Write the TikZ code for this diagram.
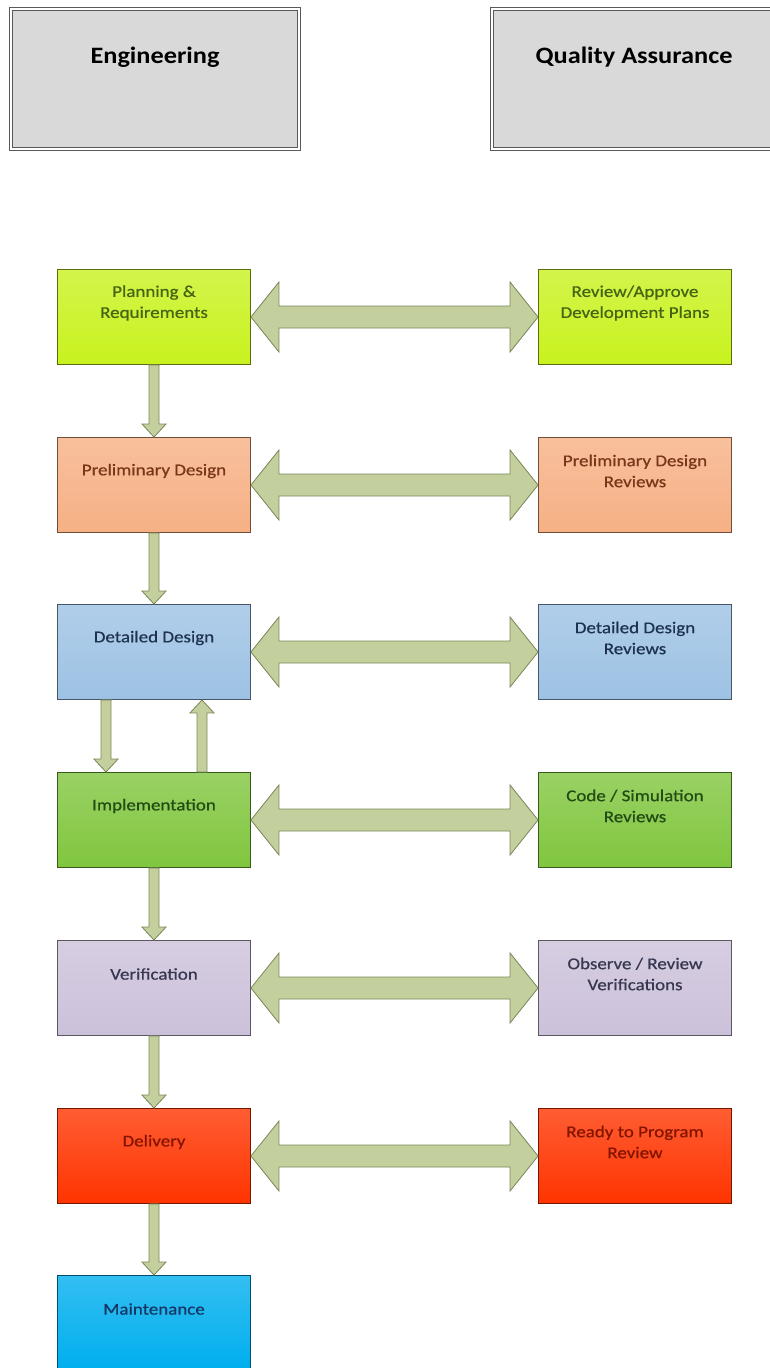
\documentclass[tikz,border=0pt]{standalone}
\usepackage{fontspec}
\setmainfont{Carlito}
\newfontfamily\widefont[FakeStretch=1.15,FakeBold=0.6]{Carlito}
\newfontfamily\wideboldfont[FakeStretch=1.12]{Carlito Bold}
\usetikzlibrary{calc}

\definecolor{planC}{RGB}{200,242,30}
\definecolor{prelC}{RGB}{246,176,132}
\definecolor{detC}{RGB}{157,194,228}
\definecolor{implC}{RGB}{128,198,62}
\definecolor{verC}{RGB}{204,193,218}
\definecolor{delC}{RGB}{255,52,0}
\definecolor{mainC}{RGB}{0,174,238}
\definecolor{planT}{RGB}{70,100,20}
\definecolor{prelT}{RGB}{120,55,25}
\definecolor{detT}{RGB}{30,50,80}
\definecolor{implT}{RGB}{35,75,20}
\definecolor{verT}{RGB}{55,55,80}
\definecolor{delT}{RGB}{130,20,0}
\definecolor{mainT}{RGB}{20,55,100}
\definecolor{arrowC}{RGB}{196,207,158}
\definecolor{arrowB}{RGB}{122,136,88}

\tikzset{
  head/.style={draw=gray!70!black,double=white,double distance=1.6pt,line width=1.2pt,
    fill=gray!30,minimum width=288pt,minimum height=140pt},
  headtxt/.style={font=\wideboldfont\fontsize{23.5}{27}\selectfont},
  stage/.style={draw=#1!45!black,line width=0.9pt,top color=#1!80!white,bottom color=#1,
    minimum width=193pt,minimum height=95pt},
  stagetxt/.style={align=center,font=\widefont\fontsize{16.5}{21}\selectfont,text=#1},
  fatarrow/.style={fill=arrowC,draw=arrowB,line width=0.8pt,line join=miter}
}

% double arrow between two boxes in a row
\newcommand{\dblarrow}[2]{%
  \filldraw[fatarrow] let \p1=(#1.east), \p2=(#2.west) in
    (\x1,\y1) -- (\x1+28pt,\y1+35pt) -- (\x1+28pt,\y1+11pt) -- (\x2-28pt,\y2+11pt)
    -- (\x2-28pt,\y2+35pt) -- (\x2,\y2) -- (\x2-28pt,\y2-35pt) -- (\x2-28pt,\y2-11pt)
    -- (\x1+28pt,\y1-11pt) -- (\x1+28pt,\y1-35pt) -- cycle;}
% arrow down from #2 to #3, shifted by #1
\newcommand{\vdown}[3][0pt]{%
  \filldraw[fatarrow] let \p1=([xshift=#1]#2.south), \p2=([xshift=#1]#3.north) in
    (\x1-5pt,\y1) -- (\x1+5pt,\y1) -- (\x2+5pt,\y2+13pt) -- (\x2+12pt,\y2+13pt)
    -- (\x2,\y2) -- (\x2-12pt,\y2+13pt) -- (\x2-5pt,\y2+13pt) -- cycle;}
% arrow up from #3 to #2, shifted by #1
\newcommand{\vup}[3][0pt]{%
  \filldraw[fatarrow] let \p1=([xshift=#1]#2.south), \p2=([xshift=#1]#3.north) in
    (\x2-5pt,\y2) -- (\x2+5pt,\y2) -- (\x1+5pt,\y1-13pt) -- (\x1+12pt,\y1-13pt)
    -- (\x1,\y1) -- (\x1-12pt,\y1-13pt) -- (\x1-5pt,\y1-13pt) -- cycle;}

\begin{document}
\begin{tikzpicture}[x=1pt,y=-1pt]
\useasboundingbox (0,0) rectangle (769,1368);

% column heads
\node[head] (eng) at (155,79) {};
\node[headtxt] (eng-t) at ([yshift=22pt]eng.center) {Engineering};
\node[head] (qa) at (636,79) {};
\node[headtxt] (qa-t) at ([xshift=-2pt,yshift=22pt]qa.center) {Quality Assurance};

% engineering stages
\node[stage=planC] (plan) at (154,317) {};
\node[stage=prelC] (prel) at (154,485) {};
\node[stage=detC] (det) at (154,652) {};
\node[stage=implC] (impl) at (154,820) {};
\node[stage=verC] (ver) at (154,988) {};
\node[stage=delC] (del) at (154,1156) {};
\node[stage=mainC] (main) at (154,1323) {};

% QA stages
\node[stage=planC] (rplan) at (635,317) {};
\node[stage=prelC] (rprel) at (635,485) {};
\node[stage=detC] (rdet) at (635,652) {};
\node[stage=implC] (rimpl) at (635,820) {};
\node[stage=verC] (rver) at (635,988) {};
\node[stage=delC] (rdel) at (635,1156) {};

% texts
\node[stagetxt=planT] (plan-t) at ([yshift=14pt]plan.center) {Planning \&\\Requirements};
\node[stagetxt=prelT] (prel-t) at ([yshift=14pt]prel.center) {Preliminary Design};
\node[stagetxt=detT] (det-t) at ([yshift=14pt]det.center) {Detailed Design};
\node[stagetxt=implT] (impl-t) at ([yshift=14pt]impl.center) {Implementation};
\node[stagetxt=verT] (ver-t) at ([yshift=14pt]ver.center) {Verification};
\node[stagetxt=delT] (del-t) at ([yshift=14pt]del.center) {Delivery};
\node[stagetxt=mainT] (main-t) at ([yshift=14pt]main.center) {Maintenance};

\node[stagetxt=planT] (rplan-t) at ([yshift=14pt]rplan.center) {Review/Approve\\Development Plans};
\node[stagetxt=prelT] (rprel-t) at ([yshift=14pt]rprel.center) {Preliminary Design\\Reviews};
\node[stagetxt=detT] (rdet-t) at ([yshift=14pt]rdet.center) {Detailed Design\\Reviews};
\node[stagetxt=implT] (rimpl-t) at ([yshift=14pt]rimpl.center) {Code / Simulation\\Reviews};
\node[stagetxt=verT] (rver-t) at ([yshift=14pt]rver.center) {Observe / Review\\Verifications};
\node[stagetxt=delT] (rdel-t) at ([yshift=14pt]rdel.center) {Ready to Program\\Review};

% flow down
\vdown{plan}{prel}
\vdown{prel}{det}
\vdown[-48pt]{det}{impl}
\vup[48pt]{det}{impl}
\vdown{impl}{ver}
\vdown{ver}{del}
\vdown{del}{main}

% links to QA
\dblarrow{plan}{rplan}
\dblarrow{prel}{rprel}
\dblarrow{det}{rdet}
\dblarrow{impl}{rimpl}
\dblarrow{ver}{rver}
\dblarrow{del}{rdel}
\end{tikzpicture}
\end{document}
